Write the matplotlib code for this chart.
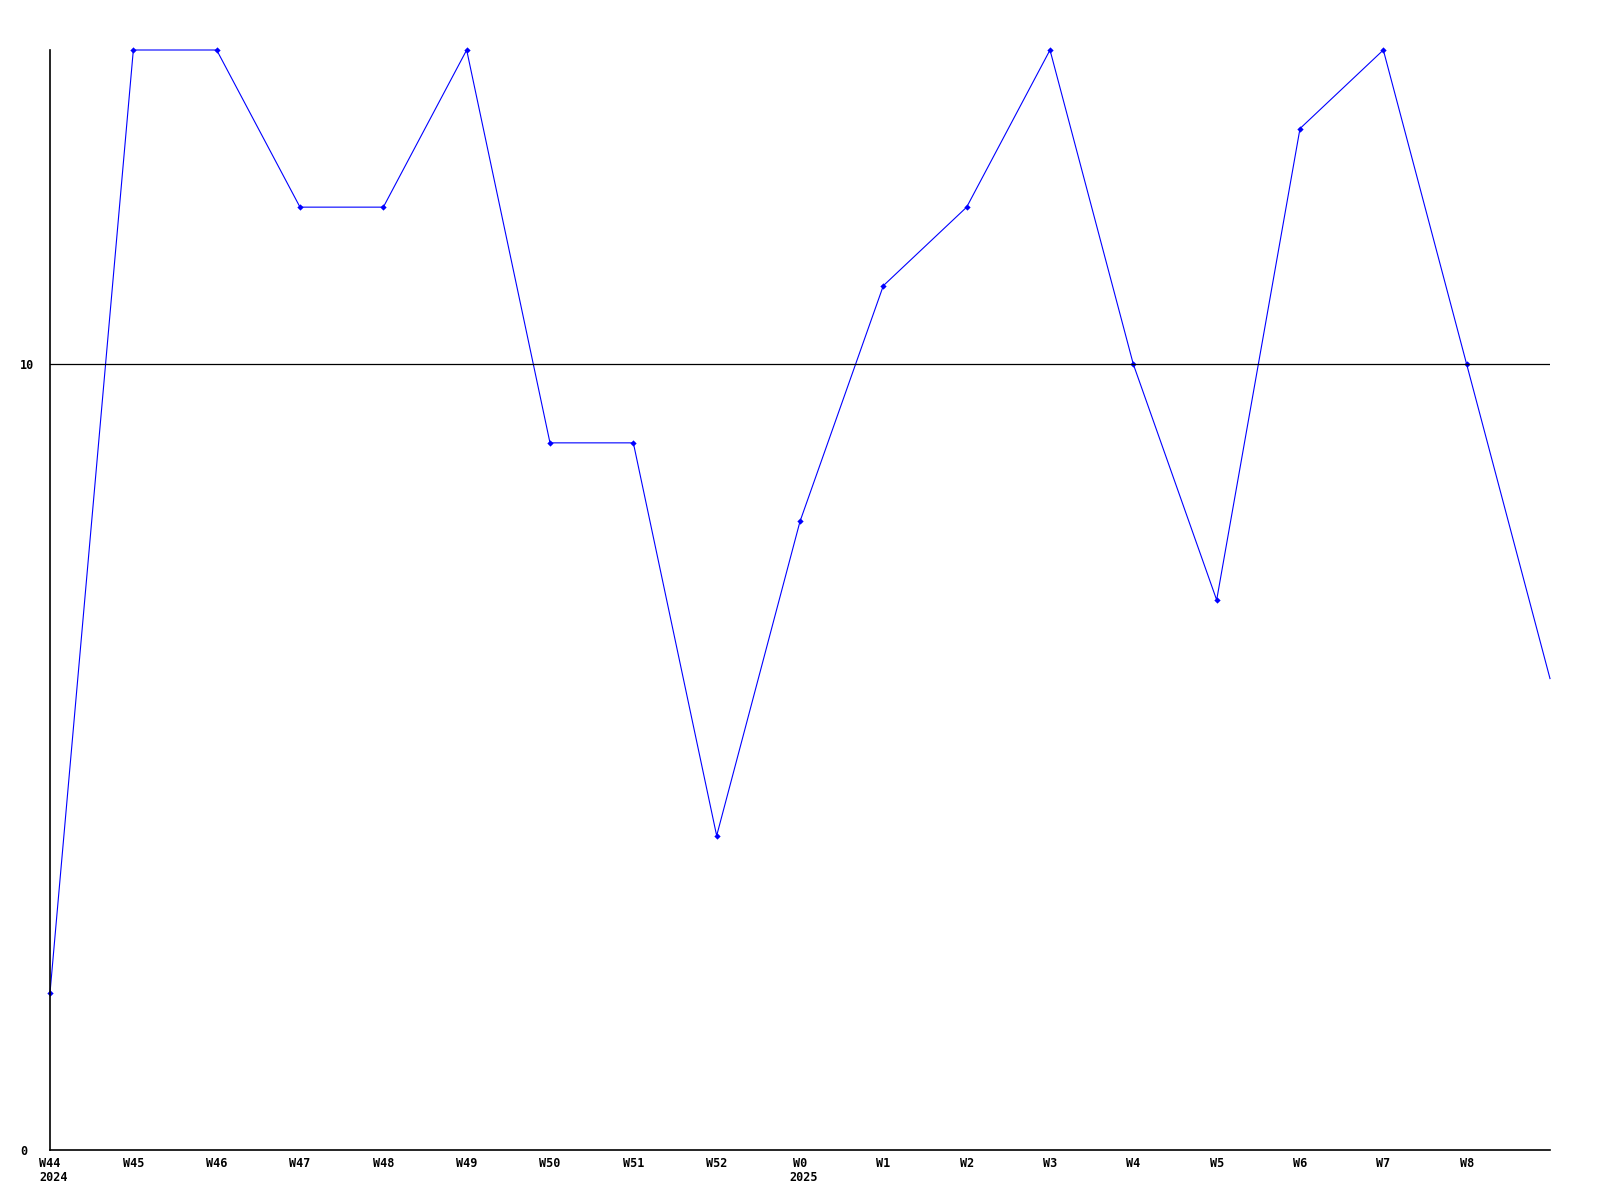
import matplotlib
matplotlib.use("Agg")
import matplotlib.pyplot as plt

weeks = ["W44", "W45", "W46", "W47", "W48", "W49", "W50", "W51", "W52",
         "W0", "W1", "W2", "W3", "W4", "W5", "W6", "W7", "W8"]
values = [2, 14, 14, 12, 12, 14, 9, 9, 4, 8, 11, 12, 14, 10, 7, 13, 14, 10, 6]
years = {0: "2024", 9: "2025"}
yticks = [0, 10]

fnt = dict(family="DejaVu Sans Mono", weight="bold", size=8.5)

fig = plt.figure(figsize=(16, 12), dpi=100)
ax = fig.add_axes([50 / 1600, 50 / 1200, 1500 / 1600, 1100 / 1200])

x = list(range(len(values)))
# line itself, then markers for the labelled weeks only (none at the right edge)
ax.plot(x, values, color="#0000ff", lw=0.8, clip_on=False)
ax.plot(x[:-1], values[:-1], ls="none", color="#0000ff", marker="D",
        ms=3.2, mew=0, clip_on=False)
ax.axhline(10, color="black", lw=0.9)

ax.set_xlim(0, len(values) - 1)
ax.set_ylim(0, 14)
for s in ["top", "right"]:
    ax.spines[s].set_visible(False)
for s in ["left", "bottom"]:
    ax.spines[s].set_linewidth(1.2)

ax.set_xticks(range(len(weeks)))
ax.set_xticklabels(weeks, **fnt)
ax.set_yticks(yticks)
ax.set_yticklabels([str(v) for v in yticks], **fnt)
ax.tick_params(length=0)
ax.tick_params(axis="x", pad=5)
ax.tick_params(axis="y", pad=21.5)
for lab in ax.get_yticklabels():
    lab.set_horizontalalignment("left")

for i, yr in years.items():
    ax.annotate(yr, xy=(i, 0), xycoords=("data", "axes fraction"),
                xytext=(-7.5, -19.5), textcoords="offset points",
                ha="left", va="center", **fnt)

fig.savefig("out.png", dpi=100, facecolor="white")
